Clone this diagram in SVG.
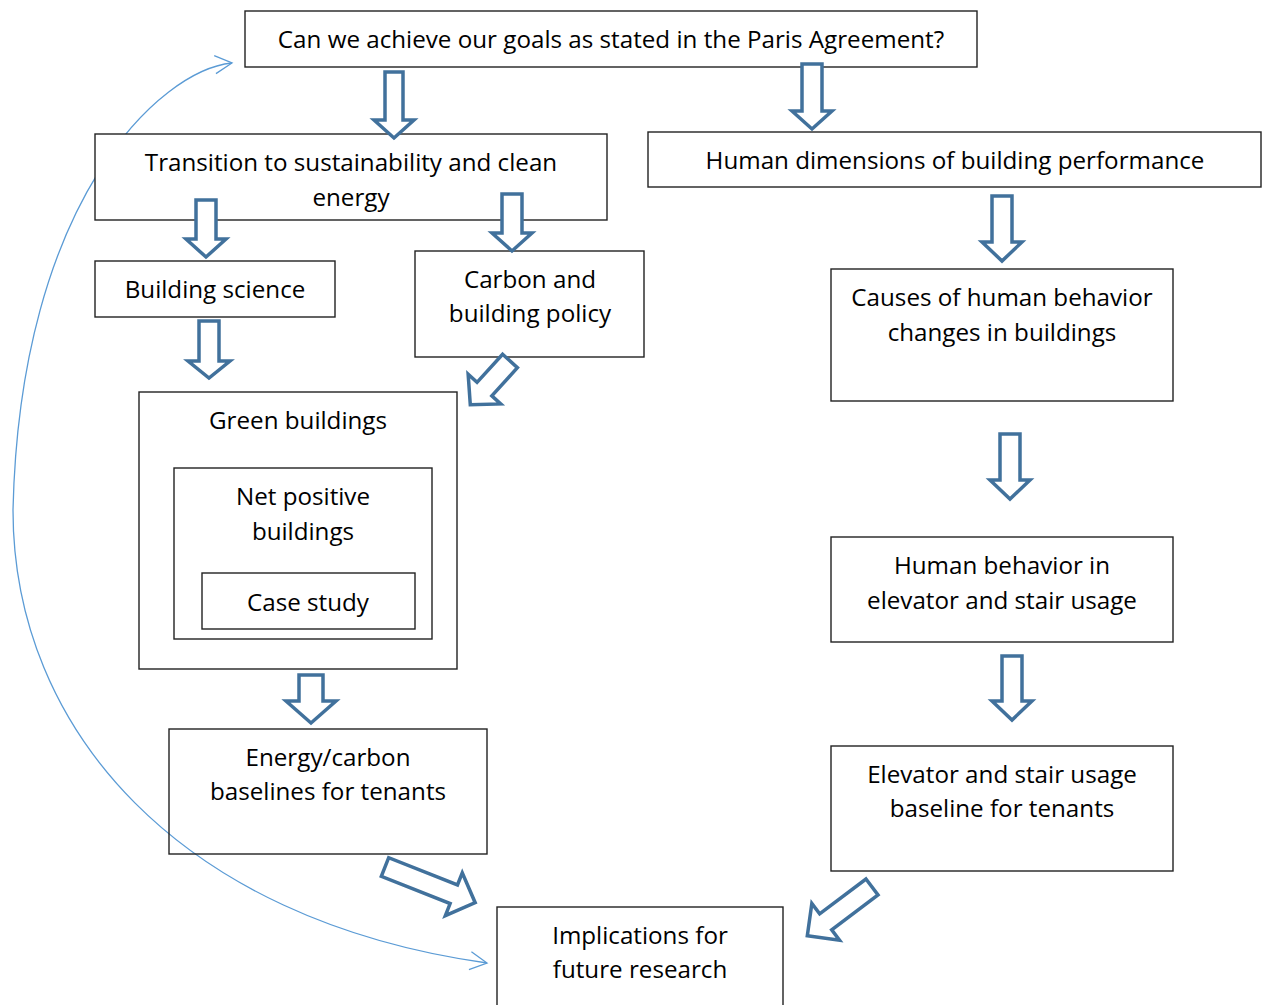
<svg xmlns="http://www.w3.org/2000/svg" width="1263" height="1005" viewBox="0 0 1263 1005">
<defs>
<style>
.box{fill:#ffffff;stroke:#222222;stroke-width:1.4}
.boxn{fill:none;stroke:#222222;stroke-width:1.4}
.t{font-family:"Open Sans","Liberation Sans",sans-serif;font-size:24.2px;fill:#000000;text-anchor:middle}
.ba{fill:#ffffff;stroke:#41719c;stroke-width:3.5;stroke-linejoin:miter}
.curve{fill:none;stroke:#5b9bd5;stroke-width:1.3}
</style>
<marker id="openHead" markerUnits="userSpaceOnUse" viewBox="-20 -12 22 24" refX="0" refY="0" markerWidth="22" markerHeight="24" orient="auto-start-reverse">
<path d="M-17,-9 L0,0 L-17,9" fill="none" stroke="#5b9bd5" stroke-width="1.3"/>
</marker>
</defs>
<rect width="1263" height="1005" fill="#ffffff"/>

<g id="connectors-curve">
<path class="curve" d="M232,63 C160,70 20,200 13,510 C13,730 180,920 487,963" marker-start="url(#openHead)" marker-end="url(#openHead)"/>
</g>

<g id="node-paris">
<rect class="box" x="245" y="11" width="732" height="56"/>
<text class="t" x="611" y="48">Can we achieve our goals as stated in the Paris Agreement?</text>
</g>
<g id="node-transition">
<rect class="box" x="95" y="134" width="512" height="86"/>
<text class="t" x="351" y="171">Transition to sustainability and clean</text>
<text class="t" x="351" y="206">energy</text>
</g>
<g id="node-human-dimensions">
<rect class="box" x="648" y="132" width="613" height="55"/>
<text class="t" x="955" y="169">Human dimensions of building performance</text>
</g>
<g id="node-building-science">
<rect class="box" x="95" y="261" width="240" height="56"/>
<text class="t" x="215" y="298">Building science</text>
</g>
<g id="node-carbon-policy">
<rect class="box" x="415" y="251" width="229" height="106"/>
<text class="t" x="530" y="288">Carbon and</text>
<text class="t" x="530" y="322">building policy</text>
</g>
<g id="node-causes">
<rect class="box" x="831" y="269" width="342" height="132"/>
<text class="t" x="1002" y="306">Causes of human behavior</text>
<text class="t" x="1002" y="341">changes in buildings</text>
</g>
<g id="node-green-buildings">
<rect class="box" x="139" y="392" width="318" height="277"/>
<text class="t" x="298" y="429">Green buildings</text>
<g id="node-net-positive">
<rect class="box" x="174" y="468" width="258" height="171"/>
<text class="t" x="303" y="505">Net positive</text>
<text class="t" x="303" y="540">buildings</text>
<g id="node-case-study">
<rect class="box" x="202" y="573" width="213" height="56"/>
<text class="t" x="308" y="611">Case study</text>
</g>
</g>
</g>
<g id="node-human-behavior">
<rect class="box" x="831" y="537" width="342" height="105"/>
<text class="t" x="1002" y="574">Human behavior in</text>
<text class="t" x="1002" y="609">elevator and stair usage</text>
</g>
<g id="node-energy-baselines">
<rect class="boxn" x="169" y="729" width="318" height="125"/>
<text class="t" x="328" y="766">Energy/carbon</text>
<text class="t" x="328" y="800">baselines for tenants</text>
</g>
<g id="node-elevator-baseline">
<rect class="box" x="831" y="746" width="342" height="125"/>
<text class="t" x="1002" y="783">Elevator and stair usage</text>
<text class="t" x="1002" y="817">baseline for tenants</text>
</g>
<g id="node-implications">
<rect class="box" x="497" y="907" width="286" height="110"/>
<text class="t" x="640" y="944">Implications for</text>
<text class="t" x="640" y="978">future research</text>
</g>

<g id="connectors-block-arrows">
<path class="ba" d="M385,72 H403 V120 H414 L394,138 L374,120 H385 Z"/>
<path class="ba" d="M802,64 H822 V111 H832 L812,129 L792,111 H802 Z"/>
<path class="ba" d="M196,200 H216 V239 H226 L206,257 L186,239 H196 Z"/>
<path class="ba" d="M502,194 H522 V233 H532 L512,251 L492,233 H502 Z"/>
<path class="ba" d="M199,321 H219 V361 H230 L209,378 L188,361 H199 Z"/>
<path class="ba" d="M992,196 H1012 V242 H1022 L1002,261 L982,242 H992 Z"/>
<path class="ba" d="M1000,434 H1020 V480 H1030 L1010,499 L990,480 H1000 Z"/>
<path class="ba" d="M1002,656 H1022 V701 H1032 L1012,720 L992,701 H1002 Z"/>
<path class="ba" d="M299,675 H323 V701 H336 L311,723 L286,701 H299 Z"/>
<path class="ba" transform="translate(510,361) rotate(42.3)" d="M-10,0 H10 V38 H22 L0,59 L-22,38 H-10 Z"/>
<path class="ba" transform="translate(385,867) rotate(-68.4)" d="M-10,0 H10 V74 H23 L0,97 L-23,74 H-10 Z"/>
<path class="ba" transform="translate(872,887) rotate(53)" d="M-10,0 H10 V58 H23 L0,81 L-23,58 H-10 Z"/>
</g>
</svg>
